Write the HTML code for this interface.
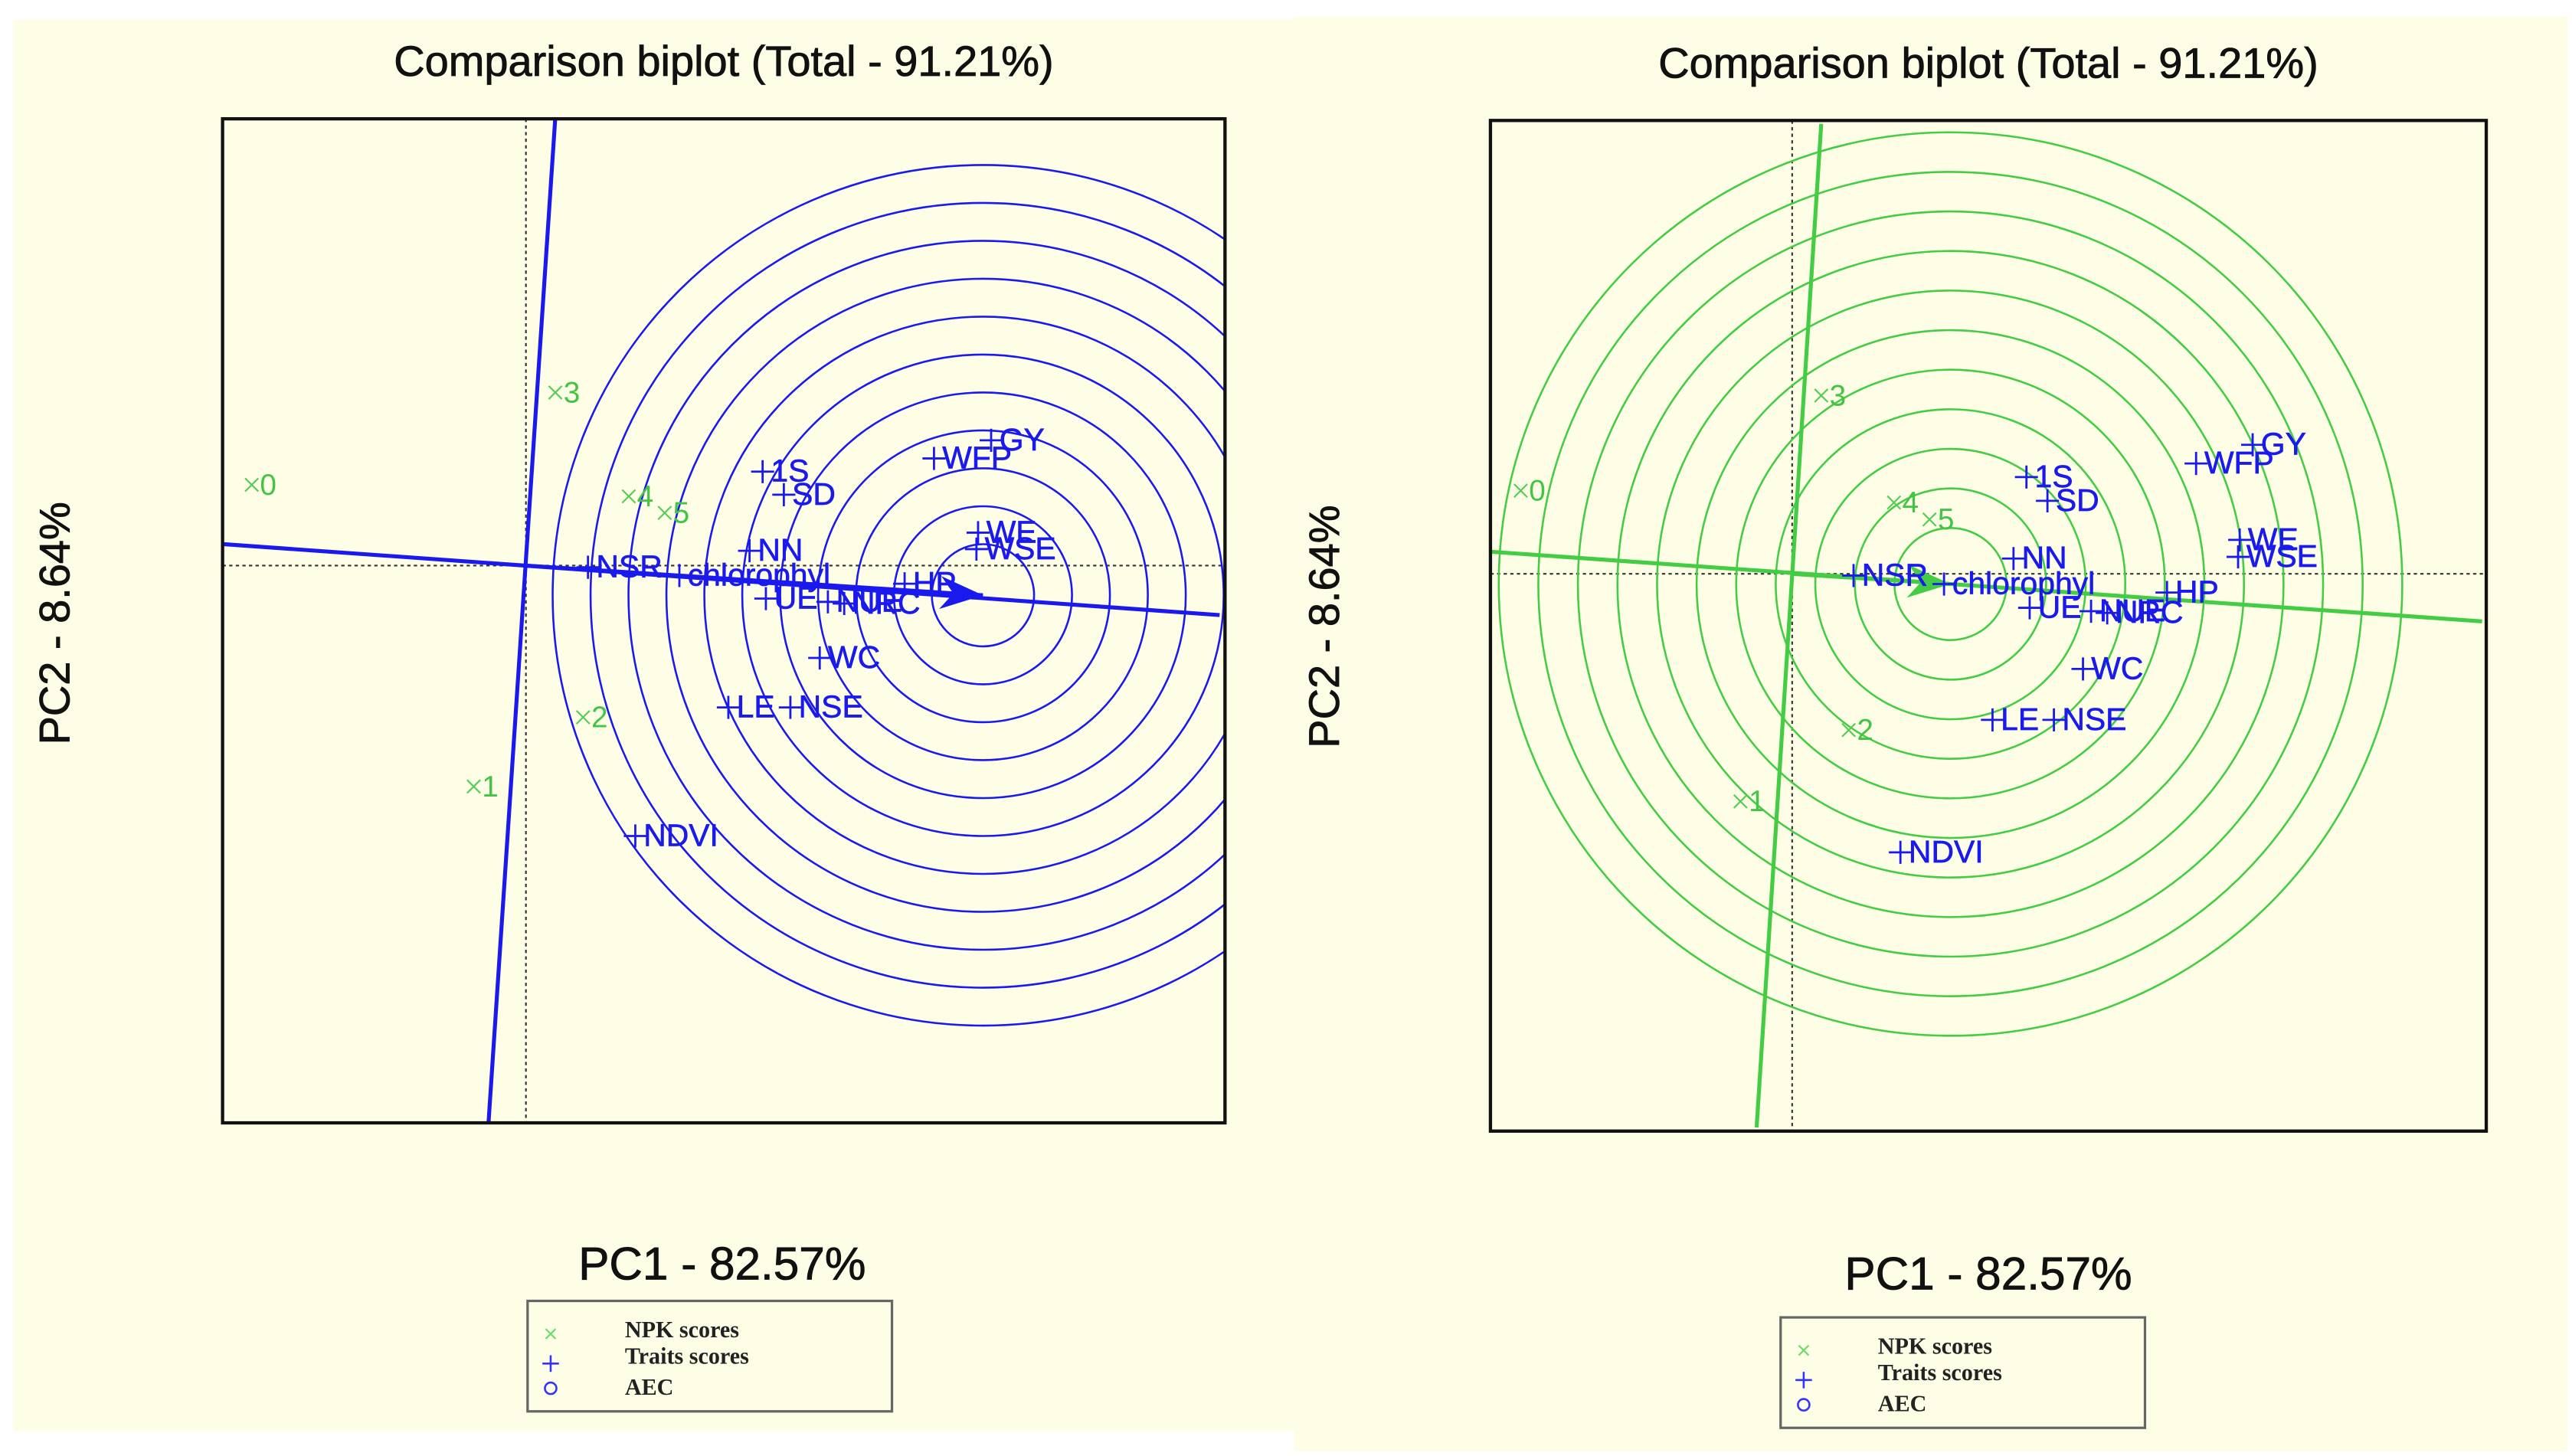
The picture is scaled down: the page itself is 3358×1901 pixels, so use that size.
<!DOCTYPE html>
<html><head><meta charset="utf-8"><style>
html,body{margin:0;padding:0;background:#fff;}
svg{display:block;}
</style></head><body>
<svg id="root" xmlns="http://www.w3.org/2000/svg" width="3358" height="1901" viewBox="0 0 1560 883" font-family="'Liberation Sans', sans-serif">
<rect x="0" y="0" width="1560" height="883" fill="#ffffff"/>
<rect x="8" y="12" width="780" height="856" fill="#fefee6"/>
<rect x="785" y="10" width="772" height="870" fill="#fefee6"/>
<g id="plots"></g>
</svg>
<script>
// ---- data (PC1, PC2 scores) ----
const traitNames = ["1S","SD","WFP","GY","WE","WSE","NN","NSR","chlorophyl","HP","UE","NUE","NRC","WC","LE","NSE","NDVI"];
const traitPC1 = [1.45,1.58,2.50,2.85,2.77,2.76,1.37,0.38,0.94,2.32,1.47,1.85,1.95,1.80,1.24,1.62,0.67];
const traitPC2 = [0.57,0.43,0.65,0.76,0.20,0.10,0.09,-0.01,-0.06,-0.11,-0.20,-0.22,-0.23,-0.56,-0.86,-0.86,-1.64];
const npkNames = ["0","1","2","3","4","5"];
const npkPC1 = [-1.68,-0.32,0.35,0.18,0.63,0.85];
const npkPC2 = [0.49,-1.34,-0.92,1.05,0.42,0.32];
const aecLeft = [2.80,-0.18];
const aecRight = [0.98,-0.06];
const axisLeftH = [[-1.85,0.13],[4.25,-0.30]];
const axisLeftV = [[0.18,2.72],[-0.23,-3.39]];
const axisRightH = [[-1.86,0.13],[4.27,-0.28]];
const axisRightV = [[0.18,2.65],[-0.22,-3.26]];

const NS="http://www.w3.org/2000/svg";
function mk(tag, attrs, parent){const e=document.createElementNS(NS,tag);for(const k in attrs)e.setAttribute(k,attrs[k]);parent.appendChild(e);return e;}

function drawPlot(cfg){
  const g = mk('g',{},document.getElementById('plots'));
  
  
  const X = v => cfg.ox + v*cfg.sx;
  const Y = v => cfg.oy - v*cfg.sy;
  const b = cfg.box;
  const cid = cfg.name+'-clip';
  const defs = mk('defs',{},g);
  const cp = mk('clipPath',{id:cid},defs);
  mk('rect',{x:b[0],y:b[1],width:b[2]-b[0],height:b[3]-b[1]},cp);
  const t = mk('text',{x:(b[0]+b[2])/2,y:cfg.titleY,'text-anchor':'middle','font-size':26,fill:'#111',stroke:'#111','stroke-width':0.4},g);
  t.textContent='Comparison biplot (Total - 91.21%)';
  
  
  const inner = mk('g',{'clip-path':'url(#'+cid+')'},g);
  const dh = mk('line',{x1:b[0],x2:b[2],y1:cfg.oy,y2:cfg.oy,stroke:'#333','stroke-width':1,'stroke-dasharray':'2,2'},inner);
  
  
  const dv = mk('line',{y1:b[1],y2:b[3],x1:cfg.ox,x2:cfg.ox,stroke:'#333','stroke-width':1,'stroke-dasharray':'2,2'},inner);
  
  
  const cx = X(cfg.aec[0]), cy = Y(cfg.aec[1]);
  for(let k=0;k<cfg.nCircles;k++){
    const c = mk('circle',{cx:cx,cy:cy,r:cfg.r0+cfg.dr*k,fill:'none',stroke:cfg.color,'stroke-width':1.2},inner);
    
    
  }
  [cfg.axH,cfg.axV].forEach((a,i)=>{
    const l = mk('line',{x1:X(a[0][0]),y1:Y(a[0][1]),x2:X(a[1][0]),y2:Y(a[1][1]),stroke:cfg.color,'stroke-width':2.4},inner);
    
    
  });
  const ax0=X(0),ay0=Y(0);
  const ang=Math.atan2(cy-ay0,cx-ax0);
  const hl=26,hw=10;
  const bx=cx-hl*Math.cos(ang), by=cy-hl*Math.sin(ang);
  const px=-Math.sin(ang),py=Math.cos(ang);
  const arr = mk('g',{},inner);
  
  
  mk('line',{x1:ax0,y1:ay0,x2:cx,y2:cy,stroke:cfg.color,'stroke-width':2.4},arr);
  mk('polygon',{points:`${cx},${cy} ${bx+px*hw},${by+py*hw} ${bx+8*Math.cos(ang)},${by+8*Math.sin(ang)} ${bx-px*hw},${by-py*hw}`,fill:cfg.color},arr);
  for(let i=0;i<npkNames.length;i++){
    const x=X(npkPC1[i]),y=Y(npkPC2[i]);
    const p = mk('g',{},inner);
    
    
    mk('path',{d:`M${x-4},${y-4}L${x+4},${y+4}M${x-4},${y+4}L${x+4},${y-4}`,stroke:'#55cc55','stroke-width':1},p);
    const tx=mk('text',{x:x+5,y:y+6,'font-size':18,fill:'#44c444'},p);
    tx.textContent=npkNames[i];
  }
  for(let i=0;i<traitNames.length;i++){
    const x=X(traitPC1[i]),y=Y(traitPC2[i]);
    const p = mk('g',{},inner);
    
    
    mk('path',{d:`M${x-7},${y}L${x+7},${y}M${x},${y-7}L${x},${y+7}`,stroke:'#1a1aee','stroke-width':1.3},p);
    const tx=mk('text',{x:x+5,y:y+6,'font-size':19,fill:'#1a1aee',stroke:'#1a1aee','stroke-width':0.3},p);
    tx.textContent=traitNames[i];
  }
  const bo = mk('rect',{x:b[0],y:b[1],width:b[2]-b[0],height:b[3]-b[1],fill:'none',stroke:'#111','stroke-width':2},g);
  
  
  const yt = mk('text',{x:0,y:0,'text-anchor':'middle','font-size':26,fill:'#111',stroke:'#111','stroke-width':0.4,transform:`translate(${cfg.yTitleX},${cfg.yTitleY}) rotate(-90)`},g);
  yt.textContent='PC2 - 8.64%';
  
  
  const xt = mk('text',{x:cfg.xTitleX,y:cfg.xTitleY,'text-anchor':'middle','font-size':28,fill:'#111',stroke:'#111','stroke-width':0.4},g);
  xt.textContent='PC1 - 82.57%';
  
  
  const L=cfg.legend;
  const lg = mk('g',{},g);
  
  
  mk('rect',{x:L[0],y:L[1],width:221,height:67,fill:'none',stroke:'#666','stroke-width':1.5},lg);
  const lx=L[0]+14, ly=L[1];
  mk('path',{d:`M${lx-3},${ly+17}L${lx+3},${ly+23}M${lx-3},${ly+23}L${lx+3},${ly+17}`,stroke:'#66dd66','stroke-width':1},lg);
  mk('path',{d:`M${lx-5},${ly+38}L${lx+5},${ly+38}M${lx},${ly+33}L${lx},${ly+43}`,stroke:'#3333ff','stroke-width':1.2},lg);
  mk('circle',{cx:lx,cy:ly+53,r:3.5,fill:'none',stroke:'#3333ff','stroke-width':1.2},lg);
  const labs=['NPK scores','Traits scores','AEC'],ys=[22,38,57];
  labs.forEach((s,i)=>{
    const e=mk('text',{x:L[0]+59,y:ly+ys[i],'font-size':14,'font-weight':'bold','font-family':"'Liberation Serif', serif",fill:'#222'},lg);
    e.textContent=s;
    
    
  });
}

drawPlot({name:'biplot-left',color:'#1a1aee',box:[135,72,743,681],ox:319,oy:343,sx:99,sy:100,
  aec:aecLeft,r0:31,dr:23,nCircles:11,axH:axisLeftH,axV:axisLeftV,
  titleY:46,yTitleX:42,yTitleY:378,xTitleX:438,xTitleY:776,legend:[320,789]});
drawPlot({name:'biplot-right',color:'#44cc44',box:[904,73,1508,686],ox:1087,oy:348,sx:98,sy:103,
  aec:aecRight,r0:34,dr:24,nCircles:11,axH:axisRightH,axV:axisRightV,
  titleY:47,yTitleX:812,yTitleY:380,xTitleX:1206,xTitleY:782,legend:[1080,799]});
</script>
</body></html>
